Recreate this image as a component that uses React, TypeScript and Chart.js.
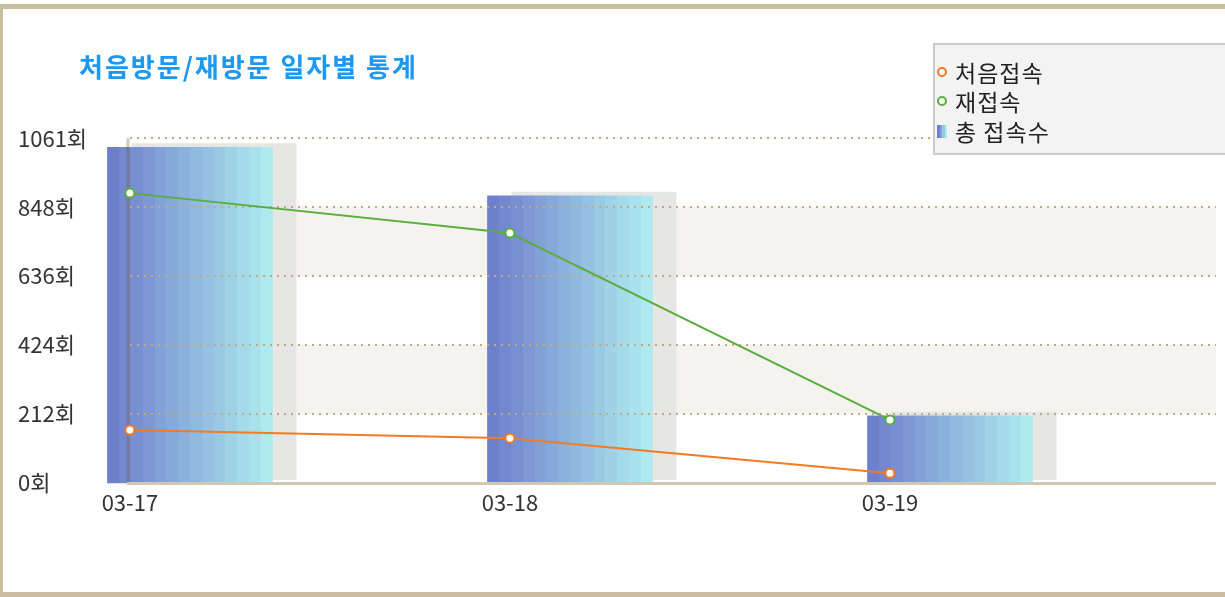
import React, { useEffect, useRef } from 'react';
import { Chart, registerables } from 'chart.js';

Chart.register(...registerables);

// ---- data ----
const categories = ['03-17', '03-18', '03-19'];
const firstVisits = [163, 138, 30];
const returnVisits = [892, 769, 194];
const totalVisits = [1033, 884, 207];
const yTickValues = [0, 212.2, 424.4, 636.6, 848.8, 1061];
const yTickLabels = ['0회', '212회', '424회', '636회', '848회', '1061회'];
const seriesLabels = ['처음접속', '재접속', '총 접속수'];
const titleText = '처음방문/재방문 일자별 통계';

// ---- styles ----
const FONT = "'Noto Sans CJK KR', 'Noto Sans', sans-serif";
const ORANGE = '#f47a22';
const GREEN = '#5aaf3c';
const BAND = '#f4f3f0';
const DOT = '#c4a880';
const AXIS = '#d2c8b1';
const SHADOW = '#e6e6e4';
const BAR_LEFT = [110, 128, 204];
const BAR_RIGHT = [174, 234, 239];
const BAR_OFFSET = 0.158; // bar drawn right of its category point (axis shift)
const X_MIN = -0.005;
const X_MAX = 2.858;

function steppedGradient(ctx: CanvasRenderingContext2D, x0: number, x1: number, steps: number) {
  const g = ctx.createLinearGradient(x0, 0, x1, 0);
  for (let k = 0; k < steps; k++) {
    const t = steps === 1 ? 0 : k / (steps - 1);
    const c = BAR_LEFT.map((a, j) => Math.round(a + (BAR_RIGHT[j] - a) * t));
    const col = `rgb(${c[0]},${c[1]},${c[2]})`;
    g.addColorStop(k / steps, col);
    g.addColorStop((k + 1) / steps, col);
  }
  return g;
}

const decorPlugin = {
  id: 'decor',
  afterLayout(chart: any) {
    const tb = chart.titleBlock;
    if (tb) {
      tb.left = 79;
      if (!tb._spacedDraw) {
        const orig = tb.draw.bind(tb);
        tb.draw = (...a: any[]) => {
          const c = chart.ctx;
          c.save();
          (c as any).letterSpacing = '2px';
          orig(...a);
          c.restore();
        };
        tb._spacedDraw = true;
      }
    }
  },
  beforeDatasetsDraw(chart: any) {
    const { ctx, chartArea } = chart;
    const ys = chart.scales.y;
    ctx.save();
    // alternating bands
    ctx.fillStyle = BAND;
    for (let i = 1; i < yTickValues.length - 1; i += 2) {
      const top = ys.getPixelForValue(yTickValues[i + 1]);
      const bot = ys.getPixelForValue(yTickValues[i]);
      ctx.fillRect(chartArea.left, top, chartArea.right - chartArea.left, bot - top);
    }
    // bar shadows
    const meta = chart.getDatasetMeta(2);
    ctx.fillStyle = SHADOW;
    meta.data.forEach((el: any) => {
      const { x, y, base, width } = el.getProps(['x', 'y', 'base', 'width'], true);
      ctx.fillRect(x - width / 2 + 24, y - 4, width, base - 3 - (y - 4));
    });
    ctx.restore();
  },
  afterDatasetDraw(chart: any, args: any) {
    if (args.index !== 2) return;
    const { ctx, chartArea } = chart;
    const ys = chart.scales.y;
    ctx.save();
    // dotted grid lines
    ctx.strokeStyle = DOT;
    ctx.lineWidth = 2;
    ctx.setLineDash([2, 5]);
    for (let i = 1; i < yTickValues.length; i++) {
      const y = Math.round(ys.getPixelForValue(yTickValues[i]));
      ctx.beginPath();
      ctx.moveTo(chartArea.left + 2, y);
      ctx.lineTo(chartArea.right, y);
      ctx.stroke();
    }
    ctx.setLineDash([]);
    // y axis line
    ctx.strokeStyle = 'rgba(120,95,60,0.35)';
    ctx.lineWidth = 3;
    ctx.beginPath();
    ctx.moveTo(chartArea.left, chartArea.top);
    ctx.lineTo(chartArea.left, chartArea.bottom);
    ctx.stroke();
    // x axis line
    ctx.strokeStyle = AXIS;
    ctx.lineWidth = 3;
    ctx.beginPath();
    ctx.moveTo(chartArea.left - 1, chartArea.bottom + 0.5);
    ctx.lineTo(chartArea.right, chartArea.bottom + 0.5);
    ctx.stroke();
    ctx.restore();
  },
  afterDraw(chart: any) {
    const { ctx } = chart;
    ctx.save();
    // legend box
    ctx.fillStyle = '#f3f3f3';
    ctx.fillRect(934, 44, 300, 110);
    ctx.strokeStyle = '#cbcbcb';
    ctx.lineWidth = 2;
    ctx.strokeRect(934, 44, 300, 110);
    const rows = [72, 101, 131];
    ctx.font = `23px ${FONT}`;
    (ctx as any).letterSpacing = '1px';
    ctx.textBaseline = 'middle';
    ctx.textAlign = 'left';
    chart.data.datasets.forEach((ds: any, i: number) => {
      const cy = rows[i];
      if (ds.type === 'line') {
        ctx.beginPath();
        ctx.arc(942, cy, 4, 0, Math.PI * 2);
        ctx.fillStyle = '#ffffff';
        ctx.fill();
        ctx.lineWidth = 2;
        ctx.strokeStyle = ds.borderColor;
        ctx.stroke();
      } else {
        ctx.fillStyle = steppedGradient(ctx, 937, 947, 4);
        ctx.fillRect(937, cy - 6, 10, 13);
      }
      ctx.fillStyle = '#222222';
      ctx.fillText(ds.label, 955, cy + 1);
    });
    ctx.restore();
  },
};

export default function App() {
  const canvasRef = useRef<HTMLCanvasElement | null>(null);

  useEffect(() => {
    document.body.style.margin = '0';
    const canvas = canvasRef.current;
    if (!canvas) return;

    const chart = new Chart(canvas, {
      type: 'bar',
      data: {
        datasets: [
          {
            type: 'line',
            label: seriesLabels[0],
            data: firstVisits.map((v, i) => ({ x: i, y: v })),
            xAxisID: 'x',
            yAxisID: 'y',
            borderColor: ORANGE,
            backgroundColor: '#ffffff',
            borderWidth: 2,
            pointRadius: 4.5,
            pointBorderWidth: 2,
            pointBackgroundColor: '#ffffff',
            pointBorderColor: ORANGE,
            tension: 0,
            clip: false,
          },
          {
            type: 'line',
            label: seriesLabels[1],
            data: returnVisits.map((v, i) => ({ x: i, y: v })),
            xAxisID: 'x',
            yAxisID: 'y',
            borderColor: GREEN,
            backgroundColor: '#ffffff',
            borderWidth: 2,
            pointRadius: 4.5,
            pointBorderWidth: 2,
            pointBackgroundColor: '#ffffff',
            pointBorderColor: GREEN,
            tension: 0,
            clip: false,
          },
          {
            type: 'bar',
            label: seriesLabels[2],
            data: totalVisits.map((v, i) => ({ x: i, y: v })),
            xAxisID: 'xb',
            yAxisID: 'y',
            grouped: false,
            barThickness: 165,
            maxBarThickness: 165,
            borderWidth: 0,
            clip: false,
            backgroundColor: (c: any) => {
              const ch = c.chart;
              if (!ch.chartArea || !c.raw) return 'rgb(140,180,220)';
              const xs = ch.scales.xb;
              const cx = xs.getPixelForValue(c.raw.x);
              return steppedGradient(ch.ctx, cx - 82.5, cx + 82.5, 14);
            },
          } as any,
        ],
      },
      options: {
        animation: false,
        responsive: false,
        devicePixelRatio: 1,
        layout: { padding: { left: 18, right: 9, top: 0, bottom: 0 } },
        plugins: {
          legend: { display: false },
          tooltip: { enabled: false },
          title: {
            display: true,
            text: titleText,
            align: 'start',
            color: '#1c98f0',
            font: { family: FONT, size: 26, weight: 'bold' },
            padding: { top: 52, bottom: 55 },
          },
        },
        scales: {
          x: {
            type: 'linear',
            position: 'bottom',
            min: X_MIN,
            max: X_MAX,
            offset: false,
            grid: { display: false, drawTicks: false, offset: false },
            border: { display: false },
            afterBuildTicks: (s: any) => {
              s.ticks = categories.map((_, i) => ({ value: i }));
            },
            afterFit: (s: any) => {
              s.height = 114;
            },
            ticks: {
              autoSkip: false,
              maxRotation: 0,
              padding: 6,
              color: '#333333',
              font: { family: FONT, size: 22 },
              callback: (_v: any, i: number) => categories[i],
            },
          },
          xb: {
            type: 'linear',
            position: 'bottom',
            display: false,
            min: X_MIN - BAR_OFFSET,
            max: X_MAX - BAR_OFFSET,
            offset: false,
            grid: { display: false, offset: false },
          },
          y: {
            type: 'linear',
            position: 'left',
            min: 0,
            max: 1061,
            grid: { display: false, drawTicks: false },
            border: { display: false },
            afterBuildTicks: (s: any) => {
              s.ticks = yTickValues.map((v) => ({ value: v }));
            },
            afterFit: (s: any) => {
              s.width = 110;
            },
            ticks: {
              autoSkip: false,
              crossAlign: 'far',
              color: '#333333',
              font: { family: FONT, size: 22 },
              callback: (_v: any, i: number) => yTickLabels[i],
            },
          },
        },
      } as any,
      plugins: [decorPlugin],
    });

    return () => {
      chart.destroy();
    };
  }, []);

  return (
    <div
      style={{
        position: 'fixed',
        left: 0,
        top: 0,
        width: 1225,
        height: 597,
        overflow: 'hidden',
        background: '#ffffff',
      }}
    >
      <div
        style={{
          position: 'absolute',
          left: 0,
          top: 4,
          width: 1300,
          height: 593,
          boxSizing: 'border-box',
          borderTop: '5px solid #c9bf9e',
          borderLeft: '3px solid #c9bf9e',
          borderBottom: '5px solid #c9bf9e',
        }}
      />
      <canvas
        ref={canvasRef}
        width={1225}
        height={597}
        style={{ position: 'absolute', left: 0, top: 0 }}
      />
    </div>
  );
}
